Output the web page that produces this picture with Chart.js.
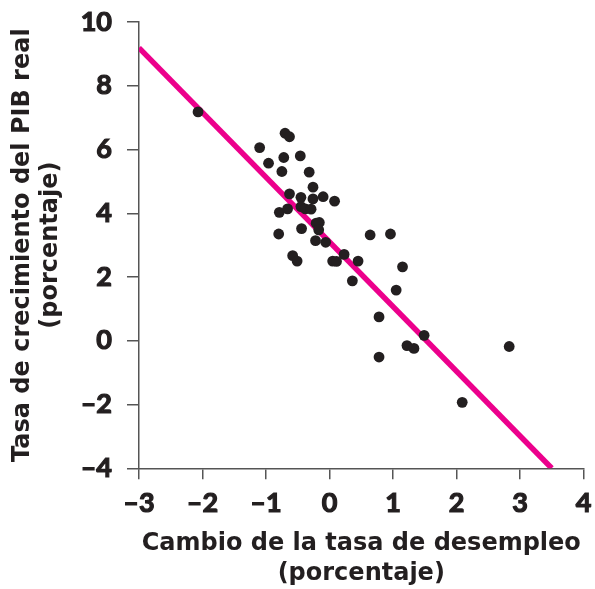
<!DOCTYPE html>
<html>
<head>
<meta charset="utf-8">
<script src="https://cdn.jsdelivr.net/npm/chart.js@4.4.0/dist/chart.umd.min.js"></script>
<style>
  html, body { margin: 0; padding: 0; background: #ffffff; }
  #wrap { width: 595px; height: 589px; }
</style>
</head>
<body>
<div id="wrap"><canvas id="c" width="595" height="589"></canvas></div>
<script>
// Change in unemployment rate (%)
const unemploymentChange = [
  -2.07, -0.70, -0.63, -1.10, -0.72, -0.46, -0.96, -0.75, -0.32, -0.26,
  -0.63, -0.45, -0.26, -0.10, 0.08, -0.79, -0.66, -0.45, -0.38, -0.29,
  -0.21, -0.16, -0.17, -0.80, -0.44, -0.22, -0.06, 0.64, 0.96, -0.58,
  -0.51, 0.23, 0.05, 0.11, 0.45, 0.36, 1.15, 1.05, 0.78, 1.49,
  1.22, 1.33, 0.78, 2.83, 2.09
];
// Real GDP growth (%)
const gdpGrowth = [
  7.18, 6.51, 6.40, 6.06, 5.75, 5.80, 5.57, 5.31, 5.29, 4.82,
  4.61, 4.50, 4.45, 4.52, 4.38, 4.03, 4.14, 4.21, 4.14, 4.13,
  3.69, 3.71, 3.48, 3.35, 3.52, 3.14, 3.09, 3.32, 3.35, 2.67,
  2.50, 2.71, 2.50, 2.49, 2.50, 1.88, 2.32, 1.59, 0.75, 0.17,
  -0.15, -0.24, -0.51, -0.18, -1.93
];
// Fitted line endpoints
const fitX = [-3, 3.5];
const fitY = [9.19, -4];

const xTicks = [-3, -2, -1, 0, 1, 2, 3, 4];
const yTicks = [-4, -2, 0, 2, 4, 6, 8, 10];

const xTitle = ['Cambio de la tasa de desempleo', '(porcentaje)'];
const yTitle = ['Tasa de crecimiento del PIB real', '(porcentaje)'];

const fmt = v => (v < 0 ? '\u2013' + Math.abs(v) : String(v));

const scatterData = unemploymentChange.map((x, i) => ({ x: x, y: gdpGrowth[i] }));
const lineData = fitX.map((x, i) => ({ x: x, y: fitY[i] }));

const TICK_FONT = 'Lato';
const TITLE_FONT = '"DejaVu Sans"';
const axisColor = '#555555';
const textColor = '#231f20';

new Chart(document.getElementById('c'), {
  type: 'scatter',
  data: {
    datasets: [
      {
        type: 'scatter',
        data: scatterData,
        backgroundColor: '#231f20',
        borderColor: '#231f20',
        borderWidth: 0,
        pointRadius: 5.4,
        order: 0
      },
      {
        type: 'line',
        data: lineData,
        borderColor: '#ec008c',
        borderWidth: 5.5,
        pointRadius: 0,
        fill: false,
        order: 1
      }
    ]
  },
  options: {
    responsive: false,
    devicePixelRatio: 1,
    animation: false,
    events: [],
    layout: { padding: { left: 0, right: 11.5, top: 22, bottom: 0 } },
    plugins: { legend: { display: false }, tooltip: { enabled: false } },
    scales: {
      x: {
        type: 'linear',
        min: -3, max: 4,
        afterBuildTicks: s => { s.ticks = xTicks.map(v => ({ value: v })); },
        afterFit: s => { s.height = 589 - 468.3; s.paddingLeft = 0; s.paddingRight = 0; },
        border: { display: true, color: axisColor, width: 1.5 },
        grid: { display: true, drawOnChartArea: false, drawTicks: true, tickLength: 11, color: axisColor, lineWidth: 1.5 },
        ticks: {
          color: textColor, padding: 8, maxRotation: 0,
          textStrokeColor: textColor, textStrokeWidth: 1.2,
          font: { family: TICK_FONT, size: 27, weight: 'bold' },
          callback: v => fmt(v)
        },
        title: {
          display: true, text: xTitle, color: textColor,
          font: { family: TITLE_FONT, size: 24, weight: 'bold', lineHeight: 1.25 },
          padding: { top: 0, bottom: 0 }
        }
      },
      y: {
        type: 'linear',
        min: -4, max: 10,
        afterBuildTicks: s => { s.ticks = yTicks.map(v => ({ value: v })); },
        afterFit: s => { s.width = 139; s.paddingTop = 0; s.paddingBottom = 0; },
        border: { display: true, color: axisColor, width: 1.5 },
        grid: { display: true, drawOnChartArea: false, drawTicks: true, tickLength: 12, color: axisColor, lineWidth: 1.5 },
        ticks: {
          color: textColor, padding: 15,
          textStrokeColor: textColor, textStrokeWidth: 1.2,
          font: { family: TICK_FONT, size: 27, weight: 'bold' },
          callback: v => fmt(v)
        },
        title: {
          display: true, text: yTitle, color: textColor,
          font: { family: TITLE_FONT, size: 24, weight: 'bold', lineHeight: 1.2 },
          padding: { top: 8, bottom: 0 }
        }
      }
    }
  }
});
</script>
</body>
</html>
